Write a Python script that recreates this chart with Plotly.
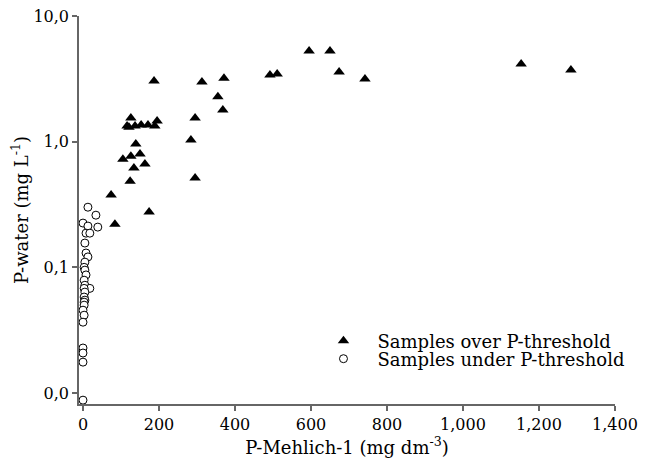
import plotly.graph_objects as go

# Samples over P-threshold (P-Mehlich-1, P-water)
over_x = [84, 74, 174, 124, 134, 163, 105, 126, 150, 139,
          116, 126, 137, 153, 171, 189, 195, 121,
          187, 295, 284, 295, 313, 355, 371, 368,
          492, 511, 595, 650, 674, 742, 1153, 1284]
over_y = [0.22, 0.376, 0.275, 0.485, 0.617, 0.664, 0.726, 0.767, 0.796, 0.957,
          1.33, 1.54, 1.33, 1.36, 1.36, 1.33, 1.46, 1.30,
          3.04, 1.54, 1.03, 0.513, 2.98, 2.28, 3.2, 1.79,
          3.39, 3.45, 5.26, 5.26, 3.58, 3.15, 4.15, 3.72]

# Samples under P-threshold
under_x = [13, 34, 0, 13, 39, 8, 18, 5, 8, 13,
           5, 3, 5, 8, 3, 5, 18, 3, 5, 3,
           5, 3, 3, 0, 3, 0, 0, 0, 0, 0]
under_y = [0.301, 0.26, 0.225, 0.213, 0.209, 0.187, 0.187, 0.156, 0.130, 0.121,
           0.110, 0.100, 0.095, 0.087, 0.079, 0.072, 0.068, 0.068, 0.0635, 0.058,
           0.0548, 0.0528, 0.050, 0.0456, 0.0416, 0.0366, 0.0228, 0.0208, 0.0176, 0.00877]

x_tickvals = [0, 200, 400, 600, 800, 1000, 1200, 1400]
x_ticktext = ["0", "200", "400", "600", "800", "1,000", "1,200", "1,400"]
y_tickvals = [0.01, 0.1, 1, 10]
y_ticktext = ["0,0", "0,1", "1,0", "10,0"]

FONT = "DejaVu Serif"
AX = "#666666"

fig = go.Figure()
fig.add_trace(go.Scatter(
    x=over_x, y=over_y, mode="markers", name="Samples over P-threshold",
    legend="legend",
    marker=dict(symbol="triangle-up", size=10, color="black", line=dict(width=0))))
fig.add_trace(go.Scatter(
    x=under_x, y=under_y, mode="markers", name="Samples under P-threshold",
    legend="legend2",
    marker=dict(symbol="circle", size=8, color="white", line=dict(width=1, color="black"))))

leg_common = dict(xanchor="left", yanchor="middle", bgcolor="rgba(0,0,0,0)",
                  itemwidth=58, font=dict(family=FONT, size=18, color="black"))

fig.update_layout(
    width=643, height=464,
    margin=dict(l=71, r=36, t=8, b=68),
    paper_bgcolor="white", plot_bgcolor="white",
    font=dict(family=FONT, size=16, color="black"),
    showlegend=True,
    legend=dict(x=0.43, y=0.162, **leg_common),
    legend2=dict(x=0.43, y=0.116, **leg_common),
    xaxis=dict(range=[-10.5, 1400], tickvals=x_tickvals, ticktext=x_ticktext,
               showline=True, linecolor=AX, linewidth=1.5,
               ticks="outside", ticklen=5, tickcolor=AX, tickwidth=1.5,
               showgrid=False, zeroline=False, automargin=False,
               ticklabeloverflow="allow",
               tickfont=dict(family=FONT, size=16),
               title=dict(text="P-Mehlich-1 (mg dm<sup>-3</sup>)", standoff=8,
                          font=dict(family=FONT, size=18))),
    yaxis=dict(type="log", range=[-2.0876, 1.0], tickvals=y_tickvals, ticktext=y_ticktext,
               showline=True, linecolor=AX, linewidth=1.5,
               ticks="outside", ticklen=5, tickcolor=AX, tickwidth=1.5,
               showgrid=False, zeroline=False, automargin=False,
               ticklabeloverflow="allow",
               tickfont=dict(family=FONT, size=16),
               title=dict(text="P-water (mg L<sup>-1</sup>)", standoff=10,
                          font=dict(family=FONT, size=18))),
)

fig.write_html("out.html")
